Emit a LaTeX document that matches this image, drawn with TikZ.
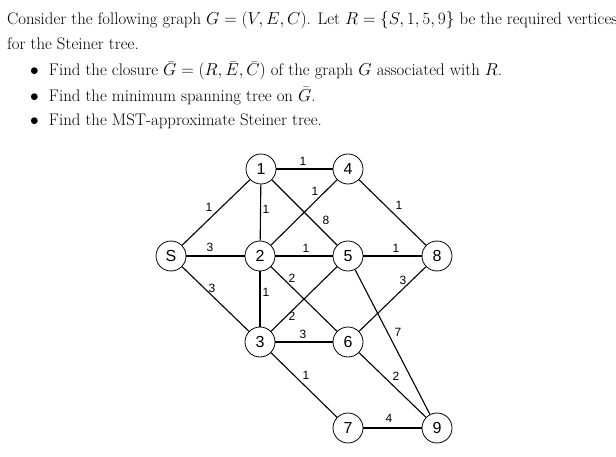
\documentclass[tikz,border=0pt]{standalone}
\usepackage{fontspec}
\newfontfamily\arial{Liberation Sans}
\usepackage{amsmath}
\begin{document}
\begin{tikzpicture}[x=1pt,y=-1pt,
  vtx/.style={circle,draw,line width=0.8pt,minimum size=30pt,inner sep=0pt,font=\arial\fontsize{16}{16}\selectfont},
  edge/.style={line width=1.1pt},
  wt/.style={font=\arial\fontsize{12}{12}\selectfont,inner sep=0pt},
  txt/.style={anchor=west,inner sep=0pt,font=\fontsize{16.8}{19}\selectfont}]
\useasboundingbox (0,0) rectangle (616,457);
\node[txt] (t1) at (7,20) {Consider the following graph $G=(V,E,C)$. Let $R=\{S,1,5,9\}$ be the required vertices};
\node[txt] (t2) at (7,44) {for the Steiner tree.};
\node[txt] (t3) at (30,71) {$\bullet$\ \ Find the closure $\bar G=(R,\bar E,\bar C)$ of the graph $G$ associated with $R$.};
\node[txt] (t4) at (30,96) {$\bullet$\ \ Find the minimum spanning tree on $\bar G$.};
\node[txt] (t5) at (30,121) {$\bullet$\ \ Find the MST-approximate Steiner tree.};
\node[vtx] (S) at (171,256) {S};
\node[vtx] (n1) at (261,169) {1};
\node[vtx] (n2) at (260,256) {2};
\node[vtx] (n4) at (348,169) {4};
\node[vtx] (n5) at (348,256) {5};
\node[vtx] (n8) at (437,256) {8};
\node[vtx] (n3) at (260,342) {3};
\node[vtx] (n6) at (348,342) {6};
\node[vtx] (n7) at (348,428) {7};
\node[vtx] (n9) at (437,428) {9};
\draw[edge] (S)--(n1); \draw[edge] (S)--(n2); \draw[edge] (S)--(n3);
\draw[edge] (n1)--(n4); \draw[edge] (n1)--(n2); \draw[edge] (n1)--(n5);
\draw[edge] (n2)--(n4); \draw[edge] (n4)--(n8); \draw[edge] (n2)--(n5);
\draw[edge] (n5)--(n8); \draw[edge] (n2)--(n6); \draw[edge] (n2)--(n3);
\draw[edge] (n3)--(n5); \draw[edge] (n3)--(n6); \draw[edge] (n6)--(n8);
\draw[edge] (n5)--(n9); \draw[edge] (n3)--(n7); \draw[edge] (n6)--(n9);
\draw[edge] (n7)--(n9);
\node[wt] (w1) at (303,161) {1};
\node[wt] (w2) at (209,207) {1};
\node[wt] (w3) at (266,209) {1};
\node[wt] (w4) at (315,191) {1};
\node[wt] (w5) at (326,220) {8};
\node[wt] (w6) at (399,205) {1};
\node[wt] (w7) at (210,247) {3};
\node[wt] (w8) at (306,248) {1};
\node[wt] (w9) at (396,248) {1};
\node[wt] (w10) at (212,288) {3};
\node[wt] (w11) at (266,292) {1};
\node[wt] (w12) at (292,278) {2};
\node[wt] (w13) at (292,316) {2};
\node[wt] (w14) at (303,334) {3};
\node[wt] (w15) at (403,280) {3};
\node[wt] (w16) at (398,332) {7};
\node[wt] (w17) at (306,375) {1};
\node[wt] (w18) at (396,376) {2};
\node[wt] (w19) at (389,418) {4};
\end{tikzpicture}
\end{document}
